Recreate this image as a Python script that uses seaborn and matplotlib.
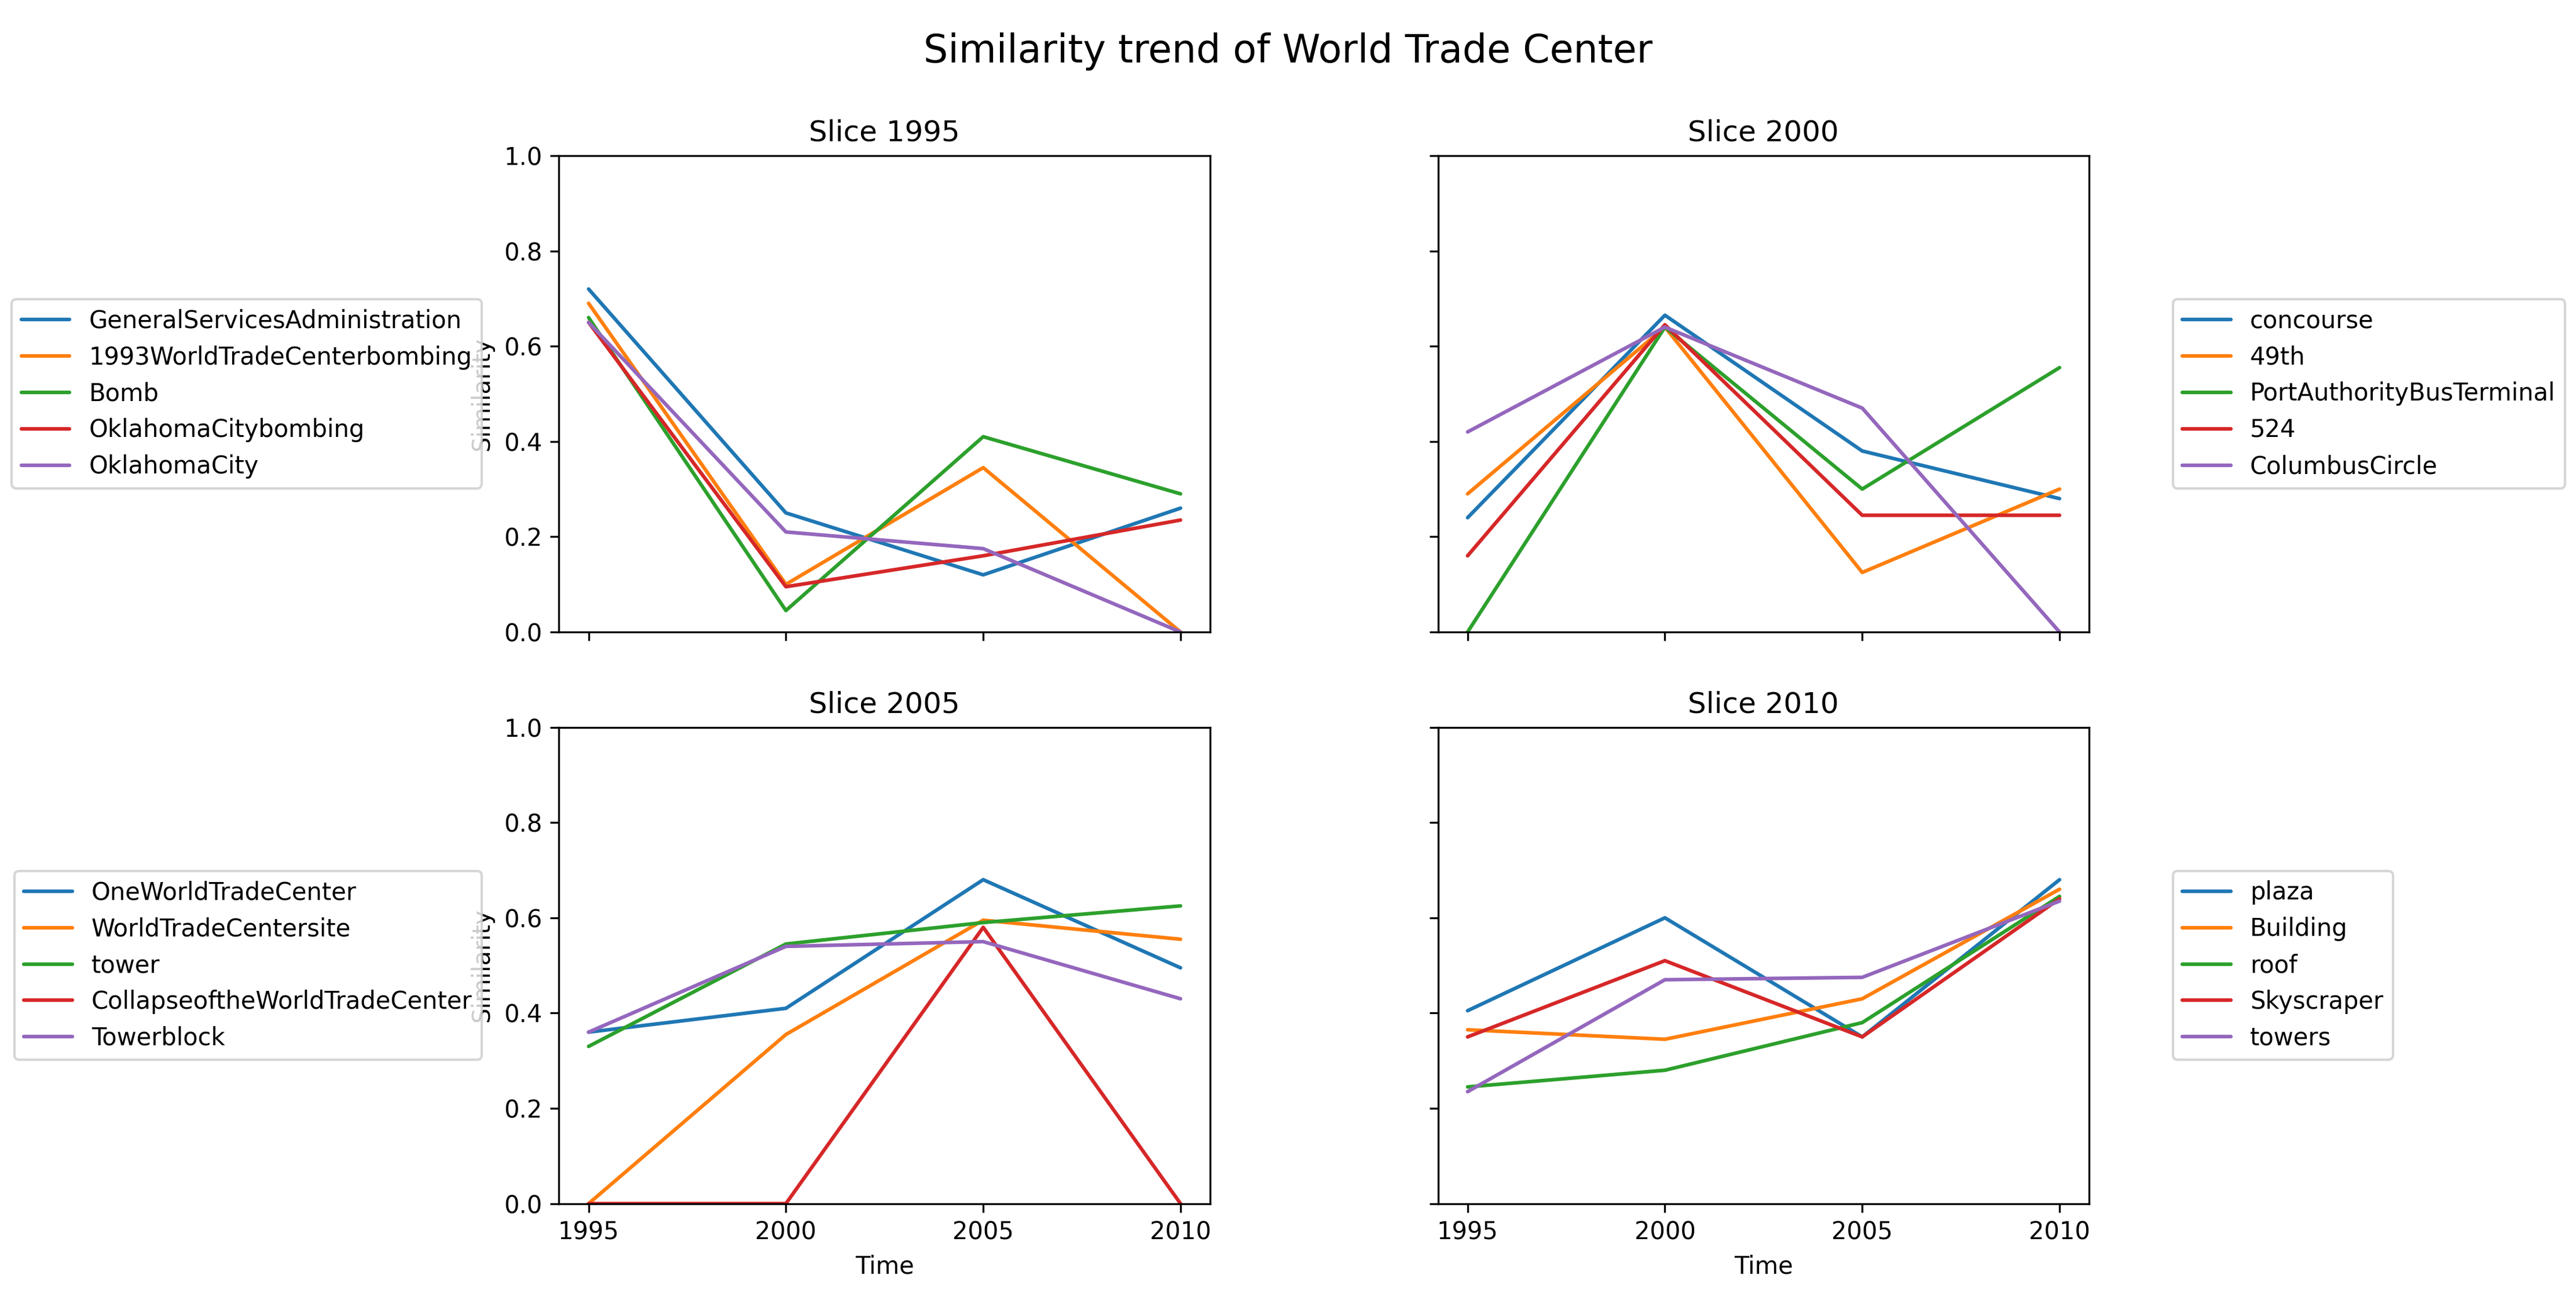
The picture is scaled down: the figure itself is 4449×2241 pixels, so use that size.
import pandas as pd
import matplotlib.pyplot as plt
import seaborn as sns

sns.set_style("ticks")
plt.rcParams.update({"text.color": "black", "axes.labelcolor": "black",
                     "xtick.color": "black", "ytick.color": "black",
                     "axes.edgecolor": "black"})

years = [1995, 2000, 2005, 2010]

slice_1995 = {
    "GeneralServicesAdministration": [0.72, 0.25, 0.12, 0.26],
    "1993WorldTradeCenterbombing": [0.69, 0.10, 0.345, 0.0],
    "Bomb": [0.66, 0.045, 0.41, 0.29],
    "OklahomaCitybombing": [0.65, 0.095, 0.16, 0.235],
    "OklahomaCity": [0.65, 0.21, 0.175, 0.0],
}
slice_2000 = {
    "concourse": [0.24, 0.665, 0.38, 0.28],
    "49th": [0.29, 0.64, 0.125, 0.30],
    "PortAuthorityBusTerminal": [0.0, 0.64, 0.30, 0.555],
    "524": [0.16, 0.645, 0.245, 0.245],
    "ColumbusCircle": [0.42, 0.64, 0.47, 0.0],
}
slice_2005 = {
    "OneWorldTradeCenter": [0.36, 0.41, 0.68, 0.495],
    "WorldTradeCentersite": [0.0, 0.355, 0.595, 0.555],
    "tower": [0.33, 0.545, 0.59, 0.625],
    "CollapseoftheWorldTradeCenter": [0.0, 0.0, 0.58, 0.0],
    "Towerblock": [0.36, 0.54, 0.55, 0.43],
}
slice_2010 = {
    "plaza": [0.405, 0.60, 0.35, 0.68],
    "Building": [0.365, 0.345, 0.43, 0.66],
    "roof": [0.245, 0.28, 0.38, 0.645],
    "Skyscraper": [0.35, 0.51, 0.35, 0.64],
    "towers": [0.235, 0.47, 0.475, 0.635],
}

slices = [("Slice 1995", slice_1995), ("Slice 2000", slice_2000),
          ("Slice 2005", slice_2005), ("Slice 2010", slice_2010)]

colors = sns.color_palette("tab10", 5)

fig, axes = plt.subplots(2, 2, figsize=(14.83, 7.47), dpi=300, sharex=True, sharey=True)
fig.subplots_adjust(left=0.217, right=0.811, top=0.880, bottom=0.072, wspace=0.35, hspace=0.20)

for i, (ax, (title, data)) in enumerate(zip(axes.flat, slices)):
    for j, (name, vals) in enumerate(data.items()):
        df = pd.DataFrame({"Time": years, "Similarity": vals})
        sns.lineplot(data=df, x="Time", y="Similarity", ax=ax, color=colors[j], label=name)
    ax.set_title(title, fontsize=12)
    ax.set_ylim(0, 1)
    ax.set_xticks(years)
    ax.set_xlabel("Time" if i >= 2 else "")
    ax.set_ylabel("Similarity" if i % 2 == 0 else "")
    ax.yaxis.set_label_coords(-0.1, 0.5)
    if i % 2 == 0:
        ax.legend(loc="center right", bbox_to_anchor=(-0.1, 0.5), fontsize=10)
    else:
        ax.legend(loc="center left", bbox_to_anchor=(1.11, 0.5), fontsize=10)

fig.suptitle("Similarity trend of World Trade Center", fontsize=16, y=0.975)
plt.savefig("out.png")
plt.close()
